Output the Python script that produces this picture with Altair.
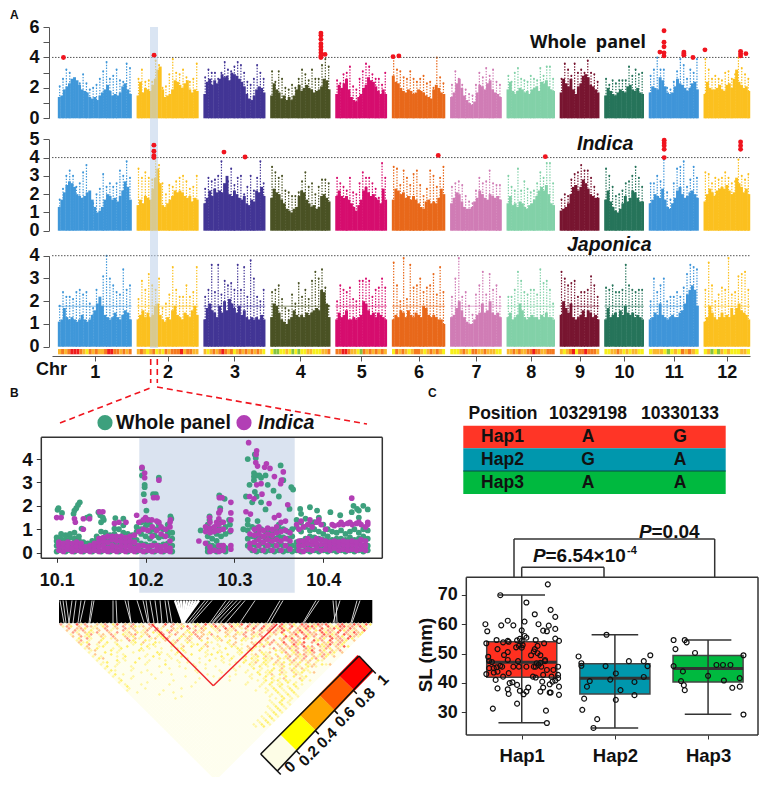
import altair as alt
import pandas as pd

W, H = 751, 769
BOLD = "Liberation Sans"

# ---------- Manhattan data ----------
chr_sizes = [43, 36, 36, 35, 30, 31, 30, 28, 23, 23, 29, 27]
chr_gap = 3
chr_colors = ["#3f97d9", "#fbc01f", "#423595", "#4a5224", "#d60d6e", "#e8681a",
              "#d07cb5", "#82d1a8", "#781530", "#26745a", "#3f95d9", "#fbc01f"]

whole_fringe = [
    [1.4,1.5,1.9,2.1,2.3,2.6,2.7,2.5,2.2,1.9,1.8,1.7,1.4,1.3,1.4,1.2,1.5,1.7,1.9,2.2,1.8,1.5,1.6,1.5,1.7,2.1,2.3,1.9,1.6],
    [1.5,2.4,1.7,2.0,1.9,1.8,2.2,2.6,3.2,3.4,1.9,1.4,1.5,1.6,1.9,2.5,2.4,2.2,2.0,2.3,2.5,1.9,1.7,1.9,1.8],
    [1.6,2.4,2.6,2.2,2.5,2.3,2.6,2.9,2.7,2.8,2.5,3.0,2.9,2.8,2.6,2.4,2.1,1.6,1.3,1.2,1.5,1.9,2.1,2.0,1.7],
    [1.5,2.3,1.9,1.7,1.3,1.5,1.2,1.4,1.2,1.5,1.9,2.2,1.8,2.0,2.2,2.0,1.9,1.7,1.8,1.9,2.1,2.6,2.5,1.9],
    [1.6,2.2,2.0,2.3,2.6,1.9,1.4,1.2,1.1,1.4,1.6,2.0,2.2,2.7,2.5,2.4,2.1,1.8,1.6,1.9,1.6],
    [2.8,2.4,2.3,2.0,1.8,1.7,1.9,1.8,1.6,1.7,1.9,1.8,1.7,1.5,1.4,1.3,1.9,2.2,2.0,1.7,1.6],
    [1.4,1.7,2.3,2.6,2.0,1.5,1.2,1.0,0.9,1.1,1.7,2.2,2.1,1.9,2.3,2.5,1.9,1.7,1.6,1.4],
    [1.9,2.4,1.8,1.6,1.8,2.0,1.9,1.7,1.8,1.6,1.9,2.0,2.1,1.8,2.4,2.3,2.5,2.1,1.9,1.8],
    [1.7,2.6,2.3,2.1,2.6,1.9,1.6,2.1,2.3,2.8,2.9,2.7,2.2,2.1,1.9,1.7],
    [1.5,2.0,1.8,1.6,1.5,1.7,1.9,1.8,1.7,2.1,2.2,1.9,1.8,2.0,1.7,1.6],
    [1.7,2.1,2.0,1.9,2.7,2.5,2.1,1.7,1.6,1.7,2.1,2.6,2.3,2.2,2.0,1.8,2.0,2.3,2.4,1.9],
    [1.6,2.4,2.0,1.9,1.9,2.0,2.2,1.9,1.8,2.2,2.3,2.0,2.6,3.2,2.4,2.2,2.0,2.1,1.8]]
whole_tops = [
    [2.1, 2.6, 3.2, 3.0, 2.5, 2.2, 2.3, 2.9, 2.3, 1.9, 2.0, 2.2, 2.6, 3.1, 3.7, 2.6, 2.8, 3.2, 2.5, 2.4, 3.6, 3.3],
    [2.6, 3.2, 2.4, 2.5, 2.4, 3.8, 3.5, 2.0, 2.1, 2.9, 3.9, 3.0, 2.9, 3.2, 2.7, 2.4, 2.6, 3.6],
    [2.7, 3.2, 3.0, 3.0, 2.6, 3.0, 3.7, 3.2, 3.1, 3.4, 3.7, 3.5, 3.0, 2.4, 2.2, 2.6, 3.5, 3.0, 2.6],
    [3.1, 2.4, 3.1, 2.6, 2.0, 1.9, 2.2, 2.0, 2.6, 3.2, 2.9, 2.5, 3.2, 2.6, 2.6, 3.5, 3.9, 3.4],
    [2.5, 2.3, 2.9, 3.0, 3.4, 2.1, 1.9, 2.6, 3.1, 3.6, 3.4, 2.9, 2.6, 2.6, 2.2, 3.0],
    [4.0, 3.2, 3.1, 2.7, 2.6, 3.1, 2.6, 2.4, 2.6, 2.8, 2.3, 2.4, 2.0, 4.0, 2.7, 2.3],
    [2.2, 3.1, 2.6, 2.2, 1.9, 1.6, 1.5, 2.2, 3.0, 2.7, 3.3, 2.8, 3.2, 2.4, 2.2],
    [2.8, 2.4, 3.0, 3.3, 2.6, 2.5, 2.4, 2.8, 2.6, 2.5, 3.3, 2.8, 3.4, 3.4, 2.6],
    [2.6, 3.6, 3.2, 2.8, 3.6, 3.0, 3.2, 3.0, 3.8, 3.0, 2.9, 2.4],
    [2.6, 2.2, 2.5, 2.3, 2.5, 2.5, 2.5, 3.4, 2.8, 3.2, 2.9, 3.0],
    [2.8, 3.2, 4.0, 3.2, 3.2, 2.0, 1.9, 2.4, 3.1, 3.9, 3.5, 2.6, 3.2, 3.0, 3.9],
    [3.9, 3.2, 2.6, 2.8, 2.6, 2.5, 3.0, 3.1, 2.6, 2.9, 4.0, 3.3, 2.9, 2.6]]
indica_fringe = [
    [1.3,1.7,2.1,2.5,2.7,2.6,2.4,2.0,1.9,1.8,1.9,2.1,2.2,1.7,1.3,1.0,1.1,1.3,1.7,2.0,1.9,1.7,1.8,1.6,1.9,2.2,2.7,2.4,1.7],
    [1.4,1.7,1.5,1.9,1.8,1.7,2.3,2.9,3.4,2.6,1.4,1.3,1.5,1.7,1.9,2.2,2.1,2.2,2.1,1.9,1.8,1.9,1.6,1.8,1.7],
    [1.5,1.8,2.2,1.9,2.3,2.1,2.2,2.1,2.6,3.0,2.0,1.9,2.2,2.0,1.8,1.7,1.9,1.5,1.4,1.7,1.6,2.2,2.1,2.4,1.9],
    [1.8,2.3,2.1,2.0,1.7,1.5,1.2,1.1,1.0,1.2,1.3,1.9,2.2,2.1,1.7,1.5,1.3,1.4,1.2,1.3,1.9,2.0,1.8,1.6],
    [1.9,2.2,1.9,1.8,1.9,1.7,1.5,1.3,1.1,1.4,1.7,2.2,2.4,2.1,1.9,2.0,1.8,1.7,1.5,2.3,1.7],
    [1.7,2.3,2.2,2.0,2.1,1.8,1.9,1.7,1.9,1.7,1.5,1.3,1.2,1.6,1.7,1.5,1.6,1.5,1.8,2.3,2.0],
    [1.5,1.8,2.1,2.0,1.6,1.3,1.2,1.2,1.3,1.6,1.8,2.2,2.0,1.8,1.7,2.0,1.9,1.8,1.9,1.7],
    [1.5,1.9,1.4,1.5,1.3,1.6,1.5,1.3,1.2,1.4,1.5,1.7,1.9,2.2,2.4,2.2,2.5,2.0,1.5,1.4],
    [1.1,1.2,1.3,1.5,2.0,2.4,2.5,2.2,2.4,2.8,2.6,2.3,2.0,1.9,1.8,1.8],
    [1.7,2.2,1.6,1.3,1.1,1.0,1.2,1.5,1.9,1.6,1.8,2.2,2.1,1.8,1.6,1.6],
    [1.5,1.7,2.0,1.9,1.8,2.3,1.7,1.3,1.2,1.5,1.8,2.2,2.4,2.0,1.8,1.9,2.1,2.2,2.0,1.8],
    [1.6,2.0,2.3,2.1,1.9,2.2,2.3,2.4,2.3,2.5,2.2,2.0,2.1,2.9,2.6,2.4,2.1,2.3,2.0]]
indica_tops = [
    [1.7, 2.3, 3.0, 3.3, 3.0, 2.4, 2.6, 3.2, 3.6, 2.0, 1.5, 2.0, 2.3, 3.1, 2.4, 2.6, 2.4, 2.6, 3.3, 3.0, 3.8, 2.9],
    [3.4, 2.9, 3.2, 2.9, 2.8, 4.0, 3.6, 2.6, 2.0, 2.5, 2.4, 2.7, 2.9, 3.0, 2.7, 2.3, 2.4, 3.0],
    [2.3, 2.9, 2.7, 2.8, 3.0, 3.8, 2.3, 2.7, 3.4, 2.5, 2.9, 3.0, 2.0, 2.4, 3.0, 2.2, 2.9, 3.8, 2.6],
    [3.5, 3.2, 2.9, 3.0, 2.2, 2.1, 1.9, 1.9, 2.1, 2.7, 3.2, 2.4, 2.6, 2.0, 2.4, 2.8, 2.8, 2.6],
    [2.9, 2.6, 2.4, 2.2, 2.9, 2.1, 2.0, 2.6, 3.2, 2.9, 2.9, 2.6, 2.3, 1.8, 3.7, 2.9],
    [3.5, 3.4, 2.5, 3.3, 2.9, 2.5, 3.1, 3.3, 2.5, 1.9, 2.3, 3.3, 3.0, 2.4, 2.9, 3.5],
    [2.4, 2.6, 2.7, 2.5, 1.9, 1.6, 1.5, 2.2, 2.9, 2.6, 2.7, 3.3, 2.6, 2.5, 2.5],
    [3.0, 2.4, 2.2, 3.4, 2.2, 2.7, 2.3, 2.1, 2.2, 2.6, 3.2, 2.9, 3.7, 3.7, 2.6],
    [1.7, 2.0, 1.9, 2.8, 3.1, 3.2, 3.6, 3.3, 3.3, 2.9, 2.4, 2.0],
    [3.4, 3.0, 2.4, 1.9, 2.0, 2.2, 2.6, 2.7, 3.0, 3.5, 2.9, 2.4],
    [2.6, 2.6, 3.0, 2.7, 3.9, 2.1, 1.7, 2.6, 3.4, 3.5, 3.8, 2.4, 2.8, 3.5, 2.9],
    [3.2, 3.1, 2.6, 2.9, 2.8, 2.9, 3.2, 2.9, 2.6, 2.7, 3.9, 3.0, 2.8, 3.1]]
japonica_fringe = [
    [1.1,1.2,1.7,1.3,1.2,1.3,1.2,1.1,1.2,1.4,1.2,1.1,1.2,1.4,1.6,1.9,2.2,1.8,1.4,1.3,1.2,1.3,1.5,1.3,1.2,1.4,1.6,1.5,1.2],
    [1.2,1.4,1.6,1.3,1.5,1.3,1.4,1.8,1.9,1.4,1.2,1.1,1.3,1.2,1.6,1.8,1.4,1.3,1.2,1.5,1.4,1.3,1.6,1.8,1.4],
    [1.2,1.7,1.9,1.6,1.5,1.3,1.8,1.5,2.0,1.6,2.1,1.9,1.7,1.5,1.8,1.4,1.6,1.3,1.2,1.3,1.2,1.3,1.2,1.4,1.2],
    [1.3,1.9,1.8,1.5,1.2,1.1,1.0,1.2,1.3,1.6,1.4,1.3,1.4,1.3,1.5,1.4,1.5,1.6,1.7,1.6,2.5,2.4,1.9,1.3],
    [1.2,1.5,1.3,1.4,1.6,1.2,1.2,1.3,1.2,1.3,1.4,2.0,1.9,1.6,1.4,1.5,1.3,1.5,1.4,1.3,1.2],
    [1.2,1.4,1.3,1.6,1.5,1.3,1.6,1.4,1.3,1.5,1.4,1.3,1.8,1.7,1.4,1.3,1.4,1.3,1.2,1.2,1.0],
    [1.3,1.4,1.7,2.0,1.6,1.3,1.1,1.0,1.0,1.2,1.4,1.5,1.9,1.5,1.6,2.0,1.5,1.4,1.5,1.3],
    [1.3,1.5,1.2,1.3,1.4,1.9,1.6,1.3,1.2,1.3,1.4,1.3,1.3,1.2,1.4,1.3,1.5,1.3,1.3,1.2],
    [1.4,2.0,1.7,1.5,1.9,1.3,1.2,1.3,1.4,1.6,1.3,1.6,1.5,1.3,1.4,1.2],
    [1.2,1.7,1.3,1.4,1.5,1.3,1.6,1.4,1.8,1.5,1.4,1.5,1.3,1.4,1.3,1.2],
    [1.2,1.3,1.5,1.4,1.9,1.4,1.3,1.2,1.3,1.4,1.3,1.3,1.5,1.6,1.9,2.3,2.5,2.7,2.5,1.8],
    [1.1,1.3,1.8,1.5,1.3,1.2,1.3,1.5,1.3,1.4,1.3,1.7,1.4,1.7,1.9,1.6,1.5,1.4,1.2]]
japonica_tops = [
    [1.8, 2.4, 2.2, 2.2, 2.1, 2.4, 2.5, 2.3, 2.4, 1.9, 1.7, 2.5, 2.0, 3.1, 4.0, 3.0, 2.7, 2.4, 2.3, 3.4, 2.5, 2.7],
    [2.1, 2.9, 2.5, 3.2, 2.7, 2.5, 3.0, 1.7, 1.9, 2.3, 3.5, 2.5, 2.2, 2.2, 2.7, 2.2, 2.4, 3.5],
    [2.2, 2.5, 3.6, 2.4, 3.6, 2.3, 2.9, 2.7, 2.8, 2.5, 3.6, 2.5, 3.5, 2.2, 3.8, 3.0, 2.2, 2.0, 2.5],
    [2.4, 2.5, 2.7, 2.1, 1.7, 1.6, 2.3, 1.9, 2.8, 2.2, 2.5, 2.1, 2.9, 3.3, 3.0, 3.4, 2.6, 1.8],
    [2.0, 2.7, 2.5, 2.4, 2.6, 2.1, 2.0, 2.9, 2.9, 3.0, 2.9, 2.2, 2.5, 2.6, 3.0, 2.6],
    [3.7, 2.7, 2.0, 3.9, 2.1, 3.6, 2.6, 2.7, 3.0, 2.4, 2.6, 2.7, 3.2, 2.3, 3.5, 2.4],
    [2.2, 3.0, 3.9, 2.2, 2.4, 1.8, 1.4, 2.3, 2.7, 3.3, 2.3, 3.2, 2.5, 2.7, 2.2],
    [2.2, 2.2, 2.5, 3.3, 2.9, 2.4, 2.3, 2.5, 2.5, 2.3, 3.4, 2.8, 2.9, 2.5, 1.9],
    [3.3, 3.0, 2.7, 2.8, 2.9, 2.2, 2.4, 2.4, 2.5, 3.1, 2.7, 2.2],
    [2.6, 2.5, 2.7, 2.4, 2.4, 2.5, 3.6, 2.7, 2.5, 2.4, 2.5, 2.5],
    [2.0, 3.0, 2.4, 2.7, 3.0, 2.0, 2.2, 2.2, 2.4, 2.2, 2.6, 3.2, 3.6, 3.5, 3.4],
    [2.5, 3.7, 2.7, 2.0, 2.3, 2.6, 2.5, 3.9, 2.3, 2.4, 3.1, 3.2, 3.3, 2.5]]
japonica_line = 1.78

whole_sig = [(3.2, 4.0), (56.1, 4.15), (153.5, 5.6), (153.5, 5.45), (153.5, 5.2), (153.5, 4.9), (153.5, 4.7),
             (153.5, 4.5), (153.5, 4.3), (153.5, 4.1), (153.5, 4.0), (155.9, 4.2), (195.6, 4.05), (199, 4.1),
             (353.8, 5.75), (353.8, 5.0), (353.8, 4.7), (353.8, 4.3), (353.8, 4.1), (351.4, 4.35), (365.4, 4.35),
             (365.4, 4.25), (365.4, 4.15), (370.7, 4.0), (377.7, 4.5), (398.5, 4.4), (398.5, 4.25), (398.5, 4.1),
             (401.6, 4.25)]
indica_sig = [(56.0, 4.68), (56.0, 4.35), (56.0, 4.1), (56.0, 4.0), (96.9, 4.3), (109.2, 4.03), (222, 4.12),
              (284.5, 4.05), (353.9, 4.95), (353.9, 4.8), (353.9, 4.65), (353.9, 4.45), (353.9, 4.0),
              (398.5, 4.85), (398.5, 4.65), (398.5, 4.45)]
density_levels = ["232344432132322344332323", "23212312132333423322", "212323432312323232321",
                  "10011210101122111223", "33443221032323232", "13232123321232321",
                  "11123213322322211", "22323223343322333", "2123413343332",
                  "1122321212211", "12221012132321", "12010212111221"]
density_colors = ["#86c440", "#f7ef1c", "#fbb72e", "#f57a1f", "#ef1c1c"]

# ---------- Panel B data ----------
green_hi = [(10.101, 1.83), (10.102, 1.9), (10.106, 1.7), (10.120, 1.8), (10.119, 1.66), (10.126, 2.15), (10.124, 2.04),
            (10.122, 1.9), (10.128, 1.03), (10.137, 1.55), (10.147, 1.73), (10.149, 1.6), (10.15, 1.3), (10.166, 1.48),
            (10.175, 1.45), (10.165, 1.03), (10.175, 1.17), (10.153, 1.4), (10.152, 1.5), (10.134, 1.5),
            (10.196, 3.6), (10.196, 3.3), (10.199, 2.9), (10.199, 2.8), (10.198, 2.5), (10.2085, 2.5), (10.2115, 2.5),
            (10.215, 3.2), (10.201, 1.8), (10.228, 1.55), (10.229, 1.45), (10.214, 1.3), (10.203, 1.4),
            (10.315, 4.0), (10.323, 4.2), (10.324, 4.05), (10.322, 3.4), (10.322, 3.25), (10.322, 3.1), (10.325, 3.3),
            (10.328, 3.3), (10.33, 3.2), (10.335, 3.3), (10.352, 3.73), (10.3375, 2.9), (10.317, 2.9), (10.355, 3.1),
            (10.364, 2.8), (10.366, 2.7), (10.344, 2.65), (10.323, 2.6), (10.325, 2.4), (10.313, 2.4), (10.32, 2.15),
            (10.33, 2.15), (10.335, 1.85), (10.35, 2.4), (10.362, 1.87), (10.374, 1.87), (10.375, 1.66), (10.385, 1.94),
            (10.393, 1.8), (10.408, 1.73), (10.419, 1.6), (10.434, 2.0), (10.438, 1.87), (10.44, 1.8), (10.432, 1.73),
            (10.445, 2.0), (10.45, 1.85), (10.272, 1.55), (10.272, 1.4), (10.283, 2.45), (10.289, 2.3), (10.262, 0.95),
            (10.27, 1.2), (10.284, 1.9), (10.294, 1.4), (10.315, 1.4), (10.31, 1.0), (10.326, 1.35)]
purple_hi = [(10.1, 1.5), (10.105, 1.5), (10.12, 1.45), (10.121, 1.3), (10.13, 1.45), (10.137, 1.45), (10.13, 1.0),
             (10.148, 1.75), (10.152, 1.75), (10.165, 1.25), (10.17, 1.3), (10.178, 1.3), (10.19, 1.6), (10.196, 3.65),
             (10.199, 3.4), (10.199, 3.2), (10.199, 2.2), (10.209, 2.35), (10.213, 2.35), (10.215, 3.1), (10.2, 1.5),
             (10.207, 1.4), (10.215, 1.3), (10.228, 1.4), (10.283, 2.35), (10.286, 2.35), (10.296, 2.15), (10.284, 1.8),
             (10.296, 1.7), (10.296, 1.4), (10.272, 1.5), (10.28, 1.3), (10.316, 4.7), (10.325, 4.35), (10.3245, 4.2),
             (10.324, 3.85), (10.326, 3.7), (10.336, 3.8), (10.34, 3.6), (10.334, 3.65), (10.345, 3.25), (10.355, 3.45),
             (10.353, 3.1), (10.352, 2.95), (10.33, 2.95), (10.325, 2.9), (10.331, 2.5), (10.317, 2.4), (10.322, 2.3),
             (10.339, 2.1), (10.313, 1.75), (10.318, 1.65), (10.36, 2.05), (10.35, 1.6), (10.345, 1.5), (10.432, 2.33),
             (10.395, 1.4), (10.385, 1.4), (10.375, 1.35), (10.37, 1.2), (10.41, 1.2), (10.42, 1.3), (10.43, 1.3),
             (10.44, 1.3), (10.45, 1.2), (10.45, 1.3)]
green_cols = {10.10: [.05, .3, .5, .65], 10.105: [.1, .35, .6, .8], 10.11: [.05, .3, .55, .75], 10.115: [.1, .4, .65, .8],
              10.12: [.05, .3, .6, .85], 10.125: [.1, .3, .55, .7], 10.13: [.05, .25, .45], 10.135: [.1, .3, .4],
              10.14: [.05, .3, .5], 10.145: [.1, .3, .55, .7], 10.15: [.05, .35, .6, .9], 10.155: [.1, .3, .55, .85],
              10.16: [.05, .25, .5, .75], 10.165: [.1, .35, .6, .8], 10.17: [.05, .3, .55, 1.0], 10.175: [.1, .3, .6, .85],
              10.18: [.05, .35, .55, .8], 10.185: [.1, .3, .6, .75], 10.19: [.05, .3, .55, .9, 1.1],
              10.195: [.1, .4, .8, 1.0, 1.3], 10.2: [.05, .35, .7, 1.1, 1.3], 10.205: [.1, .3, .6, .9, 1.2],
              10.21: [.05, .4, .75, 1.0], 10.215: [.1, .3, .65, 1.05, 1.2], 10.22: [.05, .35, .7, 1.0],
              10.225: [.1, .4, .75, .9, 1.2], 10.23: [.05, .3, .6, .85], 10.27: [.05, .2, .4, .7, 1.0],
              10.275: [.1, .3, .6, .9], 10.28: [.05, .25, .5, .8, 1.1], 10.285: [.1, .3, .7, 1.0, 1.3],
              10.29: [.05, .2, .8, 1.1], 10.295: [.9, 1.2], 10.315: [.3, .6, .95, 1.2], 10.32: [.1, .35, .7, 1.1],
              10.325: [.05, .3, .6, .85, 1.05], 10.33: [.1, .4, .7, 1.0], 10.335: [.05, .3, .6, .9],
              10.34: [.1, .35, .65, .95], 10.345: [.05, .3, .6, .9], 10.35: [.1, .35, .7, 1.0, 1.2],
              10.355: [.05, .3, .65, 1.0], 10.36: [.1, .3, .6, .9], 10.365: [.05, .3, .7, 1.0],
              10.37: [.1, .25, .45, 1.1, 1.4], 10.375: [.05, .3, .5, .9, 1.3], 10.38: [.1, .35, .6, 1.1, 1.45],
              10.385: [.05, .3, .7, .95, 1.2], 10.39: [.1, .35, .65, 1.0, 1.3], 10.395: [.05, .3, .6, .9, 1.5],
              10.40: [.1, .25, .55, .8, 1.2], 10.405: [.05, .3, .5, .7, 1.0], 10.41: [.1, .3, .55, .9],
              10.415: [.05, .25, .6, .85], 10.42: [.1, .35, .6, .95], 10.425: [.05, .3, .55, .8],
              10.43: [.1, .3, .65, .9], 10.435: [.05, .3, .55, 1.0], 10.44: [.1, .35, .6, .85, 1.5],
              10.445: [.05, .3, .7, 1.0], 10.45: [.1, .3, .6, .95]}
purple_cols = {10.1025: [.1, .3, .45], 10.1075: [.05, .25, .4], 10.1125: [.15, .3, .45], 10.1175: [.05, .2, .4],
               10.1225: [.1, .3, .45], 10.1275: [.05, .25, .4], 10.1325: [.1, .25], 10.1375: [.05, .2, .3],
               10.1425: [.1, .3, .4], 10.1475: [.05, .25, .45, .6], 10.1525: [.1, .3, .5, .65], 10.1575: [.05, .2, .45, .7],
               10.1625: [.1, .3, .55, .7], 10.1675: [.05, .25, .5, .7], 10.1725: [.1, .3, .5, .7], 10.1775: [.05, .25, .45, .65],
               10.1825: [.1, .3, .5, .7], 10.1875: [.05, .2, .45, .75], 10.1925: [.1, .3, .9, 1.3], 10.1975: [.05, .3, 1.0, 1.4],
               10.2025: [.1, .25, .95, 1.4], 10.2075: [.05, .3, .7, 1.1], 10.2125: [.1, .3, .95, 1.35], 10.2175: [.05, .25, .8, 1.1],
               10.2225: [.1, .3, .7, 1.0], 10.2275: [.05, .2, .5, 1.1, 1.3], 10.26: [.5], 10.2675: [.4, .9, 1.1],
               10.2725: [.05, .25, .85, 1.05, 1.3], 10.2775: [.1, .9, 1.1], 10.2825: [.05, .3, .95, 1.2, 1.45, 1.7],
               10.2875: [.1, .3, 1.0, 1.3], 10.296: [.15, .3, .95], 10.3175: [.2, .4, .8], 10.3225: [.1, .45, .75, 1.0],
               10.3275: [.3, .55, .8, 1.0, 1.1], 10.3325: [.1, .45, .7, .95], 10.3375: [.3, .55, .8, 1.05],
               10.3425: [.1, .5, .75, 1.0], 10.3475: [.3, .55, .85, 1.1], 10.3525: [.1, .5, .9, 1.3], 10.3575: [.3, .6, .95, 1.35],
               10.3625: [.15, .5, .85], 10.3725: [.1, .3, .5, 1.0], 10.3775: [.05, .3, .5, 1.1], 10.3825: [.15, .4, .6, 1.2],
               10.3875: [.1, .35, .5, 1.1], 10.3925: [.2, .4, .6, 1.3], 10.3975: [.1, .35, .55, 1.2], 10.4025: [.15, .35, .5, 1.0],
               10.4075: [.1, .3, .45], 10.4125: [.2, .4, .5, 1.15], 10.4175: [.1, .3, .45, 1.2], 10.4225: [.15, .35, .5, 1.2],
               10.4275: [.1, .3, .45, 1.25], 10.4325: [.15, .35, .5, 1.2], 10.4375: [.1, .3, .45, 1.25], 10.4425: [.15, .35, .55, 1.2],
               10.4475: [.1, .3, .5, 1.1]}

# ---------- LD heatmap (one string per diagonal, digit = class) ----------
ld_colors = ["#fefeee", "#fff6a8", "#fff070", "#ffc890", "#ffa088", "#ff6050"]
ld_n = 78
ld_rows = [
 "4030514003140250314010430050413001205140304125041303140514205413545104513541525",
 "1420304310240304042130400304012504130251405130514051405205134552405125534152",
 "0403420130401304130013041003140410420130513014050514035140415240513524153041",
 "3041402030410041030140410241002041300140314001304140415203514025143052413052",
 "0410321400304013021302140403012413020103102140413024150342514305241504153241",
 "1030240130410213401300240140302403140003031403140013020350423415324053142",
 "3041200310400312020401203002130430013021300402140300053140514043514205314",
 "0204100201300403100130240020310403012000302130014002415035201420534152",
 "1401002000310420021000301401300200013020021000130403024300052405034203",
 "3120030201000120300210013002100021000203000314024105034250410324142",
 "2040101002000102012000020100120300100130100302140314052400052351420",
 "0300120001020000201000100302001300100210030214000303240524032403152",
 "1302000102000020100100012000020010020021031000140314130423014203",
 "0130002010000210000001002000201001000020120300021302403250420314",
 "1000200100010000021000201000010021000120000213002402403240314203",
 "0300020010000010020101000200012000200100130210200313241302421",
 "1010001020000102000100200000100020010020120310302403140314203",
 "0230000100020000100100010010001010200102102130213031402403",
 "1000020100000100010010000000200101000201202103002403130210",
 "0120010002001000000010100100000100102013021031203120301",
 "1000100000010000200000010010000010000210120213021302130213",
 "0201000100000010000100010000100000100102010012003102310",
 "1000000100000000100010000100000010000201002030120310",
 "0210001000100000000000100000100010010010120210310210",
 "1000000010000100000000100000100000100201200310212013",
 "0201000000100001000000001000000100010201302100310",
 "1000010000000000001000000100010000100020100202012",
 "0100100000100000000001000010000000100102013000310",
 "0200000000000010000000000000100000010201202100201",
 "1000000100000000000100000000000010001020102010",
 "0100010000001000000000000000000100010201200201",
 "0200000000000000010000000000000000100102010200",
 "0100010000000010000000000000000000010201020100",
 "1000000001000000000000000000000010010201020",
 "0010000000010000000000000000000000100201020",
 "0000000100000000000000000000000000010102010",
 "000000000000100000000000000000000010020101",
 "00000000001000000000000000000000000102010",
 "0000000000000000000000000000000001002010",
 "000000000000000000000000000000000102010",
 "00000000000000000000000000000000010201",
 "0000000000000000000000000000000102010",
 "000000000000000000000000000000010201",
 "00000000000000000000000000000001020",
 "0000000000000000000000000000010201",
 "000000000000000000000000000001020",
 "00000000000000000000000000010201",
 "0000000000000000000000000001020",
 "000000000000000000000000010201",
 "00000000000000000000000001020",
 "0000000000000000000000010201",
 "000000000000000000000001020",
]
ld_gap_lines = [(60, 64), (63, 66), (66, 69), (72, 69), (76, 73), (81, 78), (85, 80), (92, 89), (94, 90), (113, 113),
                (116, 117), (125, 131), (128, 131), (137, 144), (143, 148), (146, 149), (150, 154), (155, 158),
                (160, 162), (165, 168), (168, 172)]
ld_wedge = [(175, 183), (178, 183), (181, 183), (184, 183), (187, 183), (190, 183), (193, 183), (196, 183), (199, 183)]
ld_right_lines = [(205, 187), (208, 190), (212, 192), (226, 210), (230, 212), (233, 213), (237, 216), (241, 220), (245, 226),
                  (255, 240), (280, 267), (283, 270), (316, 303), (319, 304), (333, 335), (336, 337), (340, 333),
                  (357, 351), (360, 352)]
ld_legend_colors = ["#fdfde6", "#ffff00", "#ffa500", "#ff5a00", "#ff0000"]
ld_legend_labels = ["0", "0.2", "0.4", "0.6", "0.8", "1"]

# ---------- Panel C data ----------
hap_names = ["Hap1", "Hap2", "Hap3"]
hap_colors = ["#ff3020", "#0097ad", "#00b93f"]
hap_q1 = [41.9, 36.2, 40.3]
hap_med = [47.0, 41.6, 44.9]
hap_q3 = [54.0, 46.5, 49.3]
hap_low = [26.4, 24.6, 29.3]
hap_high = [70.0, 56.4, 54.6]
hap_alleles = [("A", "G"), ("G", "A"), ("A", "A")]
sl_points = [(1.28, 73.6), (.77, 69.9), (1.05, 67.4), (1.14, 63.4), (1.31, 64.9), (1.36, 62.5), (1.03, 60.9), (.85, 61.2),
             (.61, 60.0), (.91, 59.6), (.78, 59.6), (1.18, 60.0), (1.29, 59.5), (1.36, 58.4), (.63, 57.6), (1.0, 57.9),
             (1.23, 57.8), (1.27, 57.6), (1.03, 56.0), (1.05, 55.4), (.98, 55.0), (.73, 54.6), (.95, 54.5), (1.15, 54.6),
             (1.36, 55.1), (1.40, 54.3), (.62, 53.5), (.80, 53.8), (.85, 54.3), (.86, 54.0), (1.0, 54.3), (1.24, 53.5),
             (.97, 52.6), (.94, 52.1), (1.01, 52.9), (1.17, 52.6), (.74, 51.5), (1.14, 51.5), (1.0, 52.0), (.85, 50.5),
             (1.13, 50.7), (1.17, 50.1), (.81, 49.5), (1.10, 49.4), (1.2, 49.4), (.64, 48.9), (.85, 47.8), (.96, 47.4),
             (1.25, 47.8), (.65, 47.5), (.68, 47.1), (1.2, 46.8), (1.25, 47.4), (1.16, 46.7), (1.18, 46.1), (.79, 45.5),
             (.65, 45), (.70, 45), (.73, 45.3), (.77, 45.8), (.91, 45.5), (.97, 45.5), (1.05, 45.5), (1.13, 45.5),
             (1.15, 45.5), (1.21, 45.5), (1.27, 44.4), (1.34, 44.4), (1.39, 45.5), (.62, 43.0), (.70, 43.5), (.74, 43.8),
             (.86, 43.3), (.80, 42.1), (1.12, 42.1), (1.15, 41.8), (1.23, 42.7), (1.32, 42.1), (1.39, 42.7), (1.39, 41.6),
             (.72, 41), (.90, 40.2), (.87, 39.9), (1.22, 40.4), (1.33, 40.4), (1.36, 40.8), (.74, 38.1), (.85, 37.8),
             (.95, 39.3), (1.07, 38.4), (.98, 37.3), (1.02, 36.1), (1.05, 37), (.86, 36.2), (1.2, 37), (1.23, 38.4),
             (1.30, 39.5), (1.40, 38.7), (1.30, 36.7), (1.31, 36.7), (1.40, 35.9), (.69, 31.2), (.95, 32.9), (1.26, 30.5),
             (1.27, 26.3),
             (1.61, 49.0), (1.64, 46.7), (1.64, 45.8), (1.90, 45.7), (2.15, 47.4), (2.31, 47.4), (2.38, 49.4), (2.35, 45.7),
             (2.01, 43.2), (2.31, 42), (1.95, 41.1), (1.73, 40.6), (2.21, 40.3), (1.70, 38.7), (2.06, 37.5), (1.67, 34.6),
             (2.21, 35.8), (2.01, 34.2), (1.65, 30.8), (1.81, 27.6), (1.77, 24.6), (1.91, 56.4),
             (2.63, 54.6), (2.75, 54.6), (2.77, 53.8), (2.65, 51.5), (2.86, 50.2), (3.38, 49.4), (2.63, 45.7), (2.73, 43.9),
             (3.09, 46.1), (3.16, 46.1), (3.24, 46.1), (3.0, 42.4), (2.71, 40.6), (3.17, 40.8), (3.34, 41.6), (2.74, 39.2),
             (2.75, 37.5), (3.26, 38.3), (3.34, 38.7), (3.38, 29.2)]

# ---------- scales ----------
def S(domain, rng, **kw):
    return alt.Scale(domain=domain, range=rng, nice=False, zero=False, **kw)

FX = S([8, 8 + W], [0, W])
FY = S([8, 8 + H], [0, H])
GX = S([-3.5, 404], [44, 742])
chr_start = []
_p = 0
for s in chr_sizes:
    chr_start.append(_p)
    _p += s + chr_gap
centers = [round(a + s / 2, 1) for a, s in zip(chr_start, chr_sizes)]

def rules(rows, dash=None):
    df = pd.DataFrame(rows, columns=["x", "y", "x2", "y2", "c", "w"])
    m = alt.Chart(df).mark_rule(**({"strokeDash": dash} if dash else {}))
    return m.encode(x=alt.X("x:Q", scale=FX, axis=None), x2="x2:Q",
                    y=alt.Y("y:Q", scale=FY, axis=None), y2="y2:Q",
                    color=alt.Color("c:N", scale=None), strokeWidth=alt.StrokeWidth("w:Q", scale=None))

def rects(rows, **kw):
    df = pd.DataFrame(rows, columns=["x", "y", "x2", "y2", "c"])
    return alt.Chart(df).mark_rect(**kw).encode(
        x=alt.X("x:Q", scale=FX, axis=None), x2="x2:Q",
        y=alt.Y("y:Q", scale=FY, axis=None), y2="y2:Q",
        fill=alt.Fill("c:N", scale=None))

def texts(rows, align="center", font=BOLD, weight="bold", style="normal", angle=0, color="#111111"):
    df = pd.DataFrame(rows, columns=["x", "y", "t", "s"])
    return alt.Chart(df).mark_text(align=align, baseline="middle", font=font, fontWeight=weight,
                                   fontStyle=style, angle=angle, color=color).encode(
        x=alt.X("x:Q", scale=FX, axis=None), y=alt.Y("y:Q", scale=FY, axis=None),
        text="t:N", size=alt.Size("s:Q", scale=None))

def manhattan(fringe, tops, ydom, yrange, line=None):
    ys = S(ydom, yrange)
    fr_rows, top_rows = [], []
    for st, sz, col, b, t in zip(chr_start, chr_sizes, chr_colors, fringe, tops):
        for i, v in enumerate(b):
            fr_rows.append({"x": st + sz * (i + .5) / len(b), "v": v, "z": 0, "c": col})
        for i, v in enumerate(t):
            top_rows.append({"x": st + sz * (i + .5) / len(t), "v": v, "z": 0, "c": col})
    td = pd.DataFrame(top_rows)
    expr = "datum.value % 2 == 0 ? datum.label : ''" if ydom[1] == 6 else "datum.label"
    axis = alt.Axis(values=list(range(ydom[1] + 1)), offset=-41, orient="left", grid=False, tickSize=6, tickColor="#555555",
                    domainColor="#555555", labelFont=BOLD, labelFontWeight="bold", labelFontSize=18, labelColor="#111111",
                    labelPadding=4, title=None, zindex=1, labelExpr=expr, labelOverlap=False, labelFlush=False)
    streak = alt.Chart(td).mark_rule(strokeWidth=1.2, strokeDash=[1.4, 1.4]).encode(
        x=alt.X("x:Q", scale=GX, axis=None), y=alt.Y("v:Q", scale=ys, axis=None), y2="z:Q",
        color=alt.Color("c:N", scale=None))
    dots = alt.Chart(td).mark_circle(size=4, opacity=1).encode(
        x=alt.X("x:Q", scale=GX, axis=None), y=alt.Y("v:Q", scale=ys, axis=None),
        color=alt.Color("c:N", scale=None))
    solid = alt.Chart(pd.DataFrame(fr_rows)).mark_rule(strokeWidth=2.9).encode(
        x=alt.X("x:Q", scale=GX, axis=None),
        y=alt.Y("v:Q", scale=ys, axis=axis), y2="z:Q",
        color=alt.Color("c:N", scale=None))
    thr = alt.Chart(pd.DataFrame({"x": [-3.5], "x2": [404], "y": [4]})).mark_rule(
        strokeDash=[1.5, 1.5], color="#555555", strokeWidth=1).encode(
        x=alt.X("x:Q", scale=GX, axis=None), x2="x2:Q", y=alt.Y("y:Q", scale=ys, axis=None))
    out = [streak, dots, solid, thr]
    if line is not None:
        ld = pd.DataFrame({"x": chr_start, "x2": [a + b for a, b in zip(chr_start, chr_sizes)],
                           "y": [line] * 12, "c": chr_colors})
        out.append(alt.Chart(ld).mark_rule(strokeWidth=0.8, opacity=0.8).encode(
            x=alt.X("x:Q", scale=GX, axis=None), x2="x2:Q", y=alt.Y("y:Q", scale=ys, axis=None),
            color=alt.Color("c:N", scale=None)))
    return out

def sig_layer(sig, ydom, yrange):
    return alt.Chart(pd.DataFrame(sig, columns=["x", "v"])).mark_circle(size=24, color="#f0141e", opacity=1).encode(
        x=alt.X("x:Q", scale=GX, axis=None), y=alt.Y("v:Q", scale=S(ydom, yrange), axis=None))

layers = []
layers += manhattan(whole_fringe, whole_tops, [0, 6], [110.3, 19])
layers += manhattan(indica_fringe, indica_tops, [0, 5], [222.7, 131.3])
layers += manhattan(japonica_fringe, japonica_tops, [0, 4], [338.7, 247.7], line=japonica_line)

# density strip + chromosome axis
dens = []
for st, sz, lv in zip(chr_start, chr_sizes, density_levels):
    for i, d in enumerate(lv):
        dens.append({"x": st + sz * i / len(lv), "x2": st + sz * (i + 1) / len(lv), "f": density_colors[int(d)]})
layers.append(alt.Chart(pd.DataFrame(dens)).mark_rect().encode(
    x=alt.X("x:Q", scale=GX, axis=None), x2="x2:Q",
    y=alt.value(341), y2=alt.value(346.3), fill=alt.Fill("f:N", scale=None)))
chr_expr = "'' + (indexof(%s, datum.value) + 1)" % str(centers)
layers.append(alt.Chart(pd.DataFrame({"x": centers})).mark_tick(opacity=0).encode(
    x=alt.X("x:Q", scale=GX, axis=alt.Axis(values=centers, orient="bottom", offset=-(H - 348), labelExpr=chr_expr, title=None,
                                           grid=False, tickSize=5, tickColor="#555555", domainColor="#555555",
                                           labelFont=BOLD, labelFontWeight="bold", labelFontSize=18, labelColor="#111111",
                                           labelPadding=2, labelOverlap=False, labelFlush=False)),
    y=alt.value(348)))

# highlight band across panel A, significant points above it
layers.append(rects([(150, 27, 158, 348, "#bcd0ea")], opacity=0.55))
layers.append(sig_layer(whole_sig, [0, 6], [110.3, 19]))
layers.append(sig_layer(indica_sig, [0, 5], [222.7, 131.3]))
layers.append(rules([(150.7, 359, 150.7, 383, "#f0141e", 1.6), (157.3, 359, 157.3, 383, "#f0141e", 1.6),
                     (60, 423, 153, 387, "#f0141e", 1.6), (157, 387, 367, 424, "#f0141e", 1.6)], dash=[6, 4]))

# Panel B
BX = S([10.0827, 10.4664], [33.3, 374.3])
BY = S([-0.24, 4.93], [550.3, 429.3])
layers.append(rects([(139.3, 437.3, 294.7, 592.7, "#dae3f0")]))
layers.append(rules([(41.3, 437.3, 382.3, 437.3, "#333333", 1.5), (41.3, 558.3, 382.3, 558.3, "#333333", 1.5),
                     (41.3, 437.3, 41.3, 558.3, "#333333", 1.5), (382.3, 437.3, 382.3, 558.3, "#333333", 1.5)]))

def flat(hi, cols):
    return list(hi) + [(x, v) for x, vs in cols.items() for v in vs]

b_xaxis = alt.Axis(values=[10.1, 10.2, 10.3, 10.4], format=".1f", orient="bottom", offset=-(H - 550.3), grid=False, domain=False,
                   tickSize=4, tickColor="#333333", labelFont=BOLD, labelFontWeight="bold", labelFontSize=18, labelColor="#111111",
                   labelPadding=9, title=None, zindex=1, labelFlush=False)
b_yaxis = alt.Axis(values=[0, 1, 2, 3, 4], orient="left", offset=-33.3, grid=False, domain=False, tickSize=5, tickColor="#333333",
                   labelFont=BOLD, labelFontWeight="bold", labelFontSize=19, labelColor="#111111", labelPadding=4, title=None, zindex=1,
                   labelOverlap=False)
layers.append(alt.Chart(pd.DataFrame(flat(green_hi, green_cols), columns=["x", "v"])).mark_circle(
    size=34, color="#3da07d", opacity=1).encode(
    x=alt.X("x:Q", scale=BX, axis=b_xaxis), y=alt.Y("v:Q", scale=BY, axis=b_yaxis)))
layers.append(alt.Chart(pd.DataFrame(flat(purple_hi, purple_cols), columns=["x", "v"])).mark_circle(
    size=32, color="#b23fb5", opacity=1).encode(
    x=alt.X("x:Q", scale=BX, axis=None), y=alt.Y("v:Q", scale=BY, axis=None)))

# legend of panel B
legend_pts = pd.DataFrame({"x": [105, 244], "y": [422.7, 422.7], "c": ["#3da07d", "#b23fb5"]})
layers.append(alt.Chart(legend_pts).mark_circle(size=230, opacity=1).encode(
    x=alt.X("x:Q", scale=FX, axis=None), y=alt.Y("y:Q", scale=FY, axis=None), color=alt.Color("c:N", scale=None)))
layers.append(texts([(116, 423, "Whole panel", 19.5)], align="left"))
layers.append(texts([(258, 423, "Indica", 19.5)], align="left", style="italic"))

# LD map
layers.append(rects([(59, 600, 372.3, 623.3, "#000000")]))
layers.append(rules([(t, 600.5, b, 622.8, "#ffffff", 0.8) for t, b in ld_gap_lines + ld_right_lines] +
                    [(t, 600.5, b, 622.8, "#ffffff", 2.4) for t, b in ld_wedge]))
ld_cells = []
for k in range(ld_n):
    row = (ld_rows[k] if k < len(ld_rows) else "").ljust(ld_n - k, "0")[:ld_n - k]
    for i, ch in enumerate(row):
        ld_cells.append({"i": i + k / 2 + .5, "k": k, "d": int(ch), "f": ld_colors[int(ch)]})
ld_df = pd.DataFrame(ld_cells)
LX = S([0, ld_n], [51, 364.3])
LY = S([0, ld_n], [616.4, 772.4])
layers.append(alt.Chart(ld_df).mark_point(shape="diamond", filled=True, size=18, opacity=1, strokeWidth=0, color=ld_colors[0]).encode(
    x=alt.X("i:Q", scale=LX, axis=None), y=alt.Y("k:Q", scale=LY, axis=None)))
layers.append(alt.Chart(ld_df[ld_df.d > 0]).mark_point(shape="diamond", filled=True, size=11, opacity=1, strokeWidth=0).encode(
    x=alt.X("i:Q", scale=LX, axis=None), y=alt.Y("k:Q", scale=LY, axis=None),
    color=alt.Color("f:N", scale=None)))
layers.append(rules([(151.7, 624, 213.3, 685.7, "#f0282d", 1.5), (213.3, 685.7, 277.3, 624, "#f0282d", 1.5)]))

# LD colour bar
bar_c = [(269, 762.3), (288.3, 742.4), (307.7, 722.5), (327, 702.6), (346.4, 682.8), (365.7, 663)]
bar_rows = [(bar_c[i][0], bar_c[i][1], bar_c[i + 1][0], bar_c[i + 1][1], ld_legend_colors[i], 23) for i in range(5)]
layers.append(rules(bar_rows))
edge = [(260.7, 754), (359, 656), (372.3, 670), (277.3, 771)]
edge_rows = [(edge[i][0], edge[i][1], edge[(i + 1) % 4][0], edge[(i + 1) % 4][1], "#111111", 1.6) for i in range(4)]
tick_rows = []
for i in range(6):
    px = 277.3 + (372.3 - 277.3) * i / 5
    py = 771 + (670 - 771) * i / 5
    tick_rows.append((px, py, px + 3.5, py + 3.5, "#111111", 1.5))
layers.append(rules(edge_rows + tick_rows))
lab_pos = [(290, 767), (309, 756), (327, 738), (345, 717), (365, 698), (383, 680)]
layers.append(texts([(x, y, t, 15.5) for (x, y), t in zip(lab_pos, ld_legend_labels)], angle=315))

# Panel C table
rows_y = [425.7, 448.3, 471, 494]
table_fill = ["#ff3526", "#0097ad", "#00b93f"]
layers.append(rects([(463.3, rows_y[i], 725.7, rows_y[i + 1], table_fill[i]) for i in range(3)]))
layers.append(rules([(463.3, 471, 725.7, 471, "#0b4a45", 1)]))
layers.append(texts([(503, 414, "Position", 17.5), (588, 414, "10329198", 17.5), (680, 414, "10330133", 17.5)]))
tbl = []
for i, (n, al) in enumerate(zip(hap_names, hap_alleles)):
    yc = (rows_y[i] + rows_y[i + 1]) / 2
    tbl += [(502.5, yc, n, 17.5), (588, yc, al[0], 17.5), (680, yc, al[1], 17.5)]
layers.append(texts(tbl))

# Brackets and P values
layers.append(rules([(514, 539, 714.7, 539, "#333333", 1.5), (514, 539, 514, 577, "#333333", 1.5), (714.7, 539, 714.7, 577, "#333333", 1.5),
                     (521.7, 567.3, 604, 567.3, "#333333", 1.5), (521.7, 567.3, 521.7, 577, "#333333", 1.5), (604, 567.3, 604, 577, "#333333", 1.5)]))
layers.append(texts([(639, 531.5, "P", 19), (533, 556, "P", 19)], align="left", style="italic"))
layers.append(texts([(651.5, 531.5, "=0.04", 19), (545.5, 556, "=6.54×10", 19)], align="left"))
layers.append(texts([(627, 551, "-4", 11)], align="left"))

# Box plot (frame closes at the right page limit)
BOX_RIGHT = 758
CX = S([0.405, 3.536], [458.3, BOX_RIGHT - 8])
CY = S([22.2, 76.0], [727, 569.3])
box = pd.DataFrame({"h": [1, 2, 3], "l": [1 - .376, 2 - .376, 3 - .376], "r": [1 + .376, 2 + .376, 3 + .376],
                    "cl": [1 - .25, 2 - .25, 3 - .25], "cr": [1 + .25, 2 + .25, 3 + .25],
                    "q1": hap_q1, "q3": hap_q3, "med": hap_med, "lo": hap_low, "hi": hap_high, "c": hap_colors})
c_xaxis = alt.Axis(values=[1, 2, 3], labelExpr="'Hap' + datum.value", orient="bottom", offset=-(H - 727), grid=False, domain=False,
                   tickSize=4, tickColor="#333333", labelFont=BOLD, labelFontWeight="bold", labelFontSize=18.5, labelColor="#111111",
                   labelPadding=7, title=None, labelFlush=False)
c_yaxis = alt.Axis(values=[30, 40, 50, 60, 70], orient="left", offset=-458.3, grid=False, domain=False, tickSize=5, tickColor="#333333",
                   labelFont=BOLD, labelFontWeight="bold", labelFontSize=18, labelColor="#111111", labelPadding=4, title=None)
layers.append(alt.Chart(box).mark_rect(stroke="#444444", strokeWidth=1.5).encode(
    x=alt.X("l:Q", scale=CX, axis=c_xaxis), x2="r:Q",
    y=alt.Y("q1:Q", scale=CY, axis=c_yaxis), y2="q3:Q", fill=alt.Fill("c:N", scale=None)))
layers.append(alt.Chart(box).mark_rule(color="#333333", strokeWidth=3).encode(
    x=alt.X("l:Q", scale=CX, axis=None), x2="r:Q", y=alt.Y("med:Q", scale=CY, axis=None)))
layers.append(alt.Chart(box).mark_rule(color="#333333", strokeWidth=1.5).encode(
    x=alt.X("h:Q", scale=CX, axis=None), y=alt.Y("lo:Q", scale=CY, axis=None), y2="hi:Q"))
layers.append(alt.Chart(box).mark_rule(color="#333333", strokeWidth=1.5).encode(
    x=alt.X("cl:Q", scale=CX, axis=None), x2="cr:Q", y=alt.Y("lo:Q", scale=CY, axis=None)))
layers.append(alt.Chart(box).mark_rule(color="#333333", strokeWidth=1.5).encode(
    x=alt.X("cl:Q", scale=CX, axis=None), x2="cr:Q", y=alt.Y("hi:Q", scale=CY, axis=None)))
layers.append(alt.Chart(pd.DataFrame(sl_points, columns=["x", "v"])).mark_circle(
    size=24, fillOpacity=0, stroke="#111111", strokeWidth=1.2, opacity=1).encode(
    x=alt.X("x:Q", scale=CX, axis=None), y=alt.Y("v:Q", scale=CY, axis=None)))
layers.append(rules([(466.3, 577.3, BOX_RIGHT, 577.3, "#333333", 1.5), (466.3, 735, BOX_RIGHT, 735, "#333333", 1.5),
                     (466.3, 577.3, 466.3, 735, "#333333", 1.5), (BOX_RIGHT, 577.3, BOX_RIGHT, 735, "#333333", 1.5)]))
layers.append(texts([(426, 655, "SL (mm)", 18.7)], angle=270))

# Panel titles and letters
layers.append(texts([(530, 43, "Whole\u00a0\u00a0panel", 18)], align="left", font="Noto Sans", weight="bold"))
layers.append(texts([(577, 144, "Indica", 19.5), (567, 245, "Japonica", 19.5)], align="left", style="italic"))
layers.append(texts([(36, 370, "Chr", 18)], align="left"))
layers.append(texts([(10, 15, "A", 12), (10, 393, "B", 12), (428, 393, "C", 12)], align="left"))

chart = alt.layer(*layers).resolve_scale(x="independent", y="independent").properties(
    width=W, height=H, padding=0, background="white",
    autosize=alt.AutoSizeParams(type="none", contains="content")
).configure_view(stroke=None)

chart.save("out.html", embed_options={"renderer": "svg", "actions": False})
